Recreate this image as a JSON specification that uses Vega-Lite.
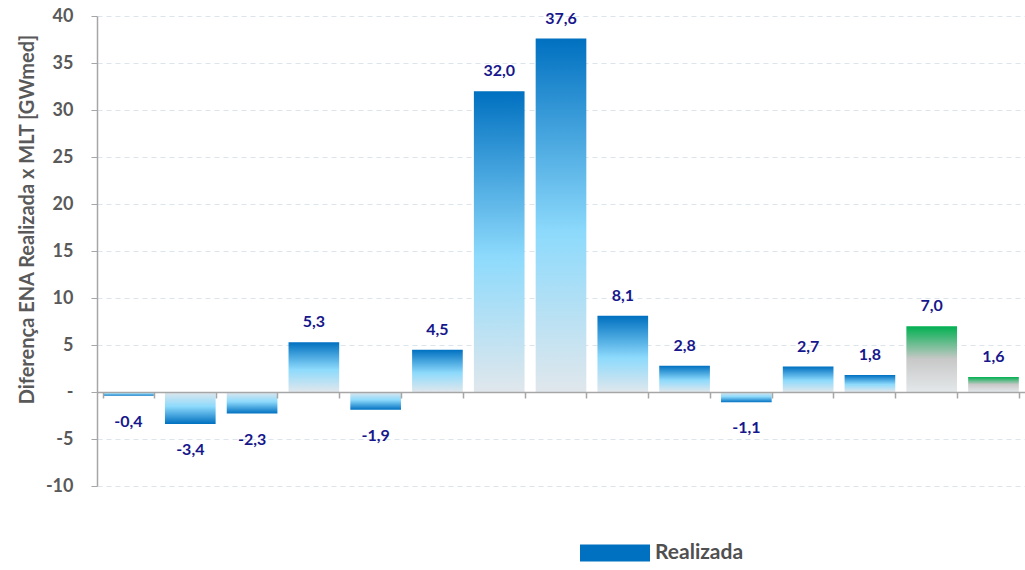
{
  "$schema": "https://vega.github.io/schema/vega-lite/v6.json",
  "width": 928,
  "height": 470,
  "autosize": "none",
  "padding": {"left": 97, "top": 16, "right": 0, "bottom": 84},
  "config": {
    "view": {"stroke": null},
    "font": "Lato",
    "locale": {"number": {"decimal": ",", "thousands": ".", "grouping": [3], "currency": ["R$", ""], "minus": "-"}}
  },
  "data": {
    "values": [
      {"periodo": "01", "tipo": "realizada", "v": -0.4},
      {"periodo": "02", "tipo": "realizada", "v": -3.4},
      {"periodo": "03", "tipo": "realizada", "v": -2.3},
      {"periodo": "04", "tipo": "realizada", "v": 5.3},
      {"periodo": "05", "tipo": "realizada", "v": -1.9},
      {"periodo": "06", "tipo": "realizada", "v": 4.5},
      {"periodo": "07", "tipo": "realizada", "v": 32.0},
      {"periodo": "08", "tipo": "realizada", "v": 37.6},
      {"periodo": "09", "tipo": "realizada", "v": 8.1},
      {"periodo": "10", "tipo": "realizada", "v": 2.8},
      {"periodo": "11", "tipo": "realizada", "v": -1.1},
      {"periodo": "12", "tipo": "realizada", "v": 2.7},
      {"periodo": "13", "tipo": "realizada", "v": 1.8},
      {"periodo": "14", "tipo": "prevista", "v": 7.0},
      {"periodo": "15", "tipo": "prevista", "v": 1.6}
    ]
  },
  "encoding": {
    "x": {
      "field": "periodo",
      "type": "nominal",
      "sort": "ascending",
      "scale": {"paddingInner": 0.18, "paddingOuter": 0.1},
      "axis": {
        "title": null,
        "labels": false,
        "orient": "bottom",
        "offset": -94,
        "domainColor": "#A6A6A6",
        "domainWidth": 1.5,
        "tickColor": "#A6A6A6",
        "tickWidth": 1.5,
        "tickSize": 6,
        "tickBand": "extent",
        "zindex": 1
      }
    }
  },
  "layer": [
    {
      "transform": [{"filter": "datum.tipo == 'realizada' && datum.v >= 0"}],
      "mark": {
        "type": "bar",
        "color": {
          "gradient": "linear", "x1": 0, "y1": 0, "x2": 0, "y2": 1,
          "stops": [
            {"offset": 0, "color": "#0070C0"},
            {"offset": 0.55, "color": "#8DDAFC"},
            {"offset": 1, "color": "#E0E7EC"}
          ]
        }
      },
      "encoding": {
        "y": {
          "field": "v",
          "type": "quantitative",
          "scale": {"domain": [-10, 40], "nice": false},
          "axis": {
            "title": "Diferença ENA Realizada x MLT [GWmed]",
            "values": [-10, -5, 0, 5, 10, 15, 20, 25, 30, 35, 40],
            "labelExpr": "datum.value == 0 ? '-' : datum.label",
            "labelFontSize": 18,
            "labelFontWeight": "bold",
            "labelColor": "#595959",
            "labelPadding": 18,
            "titleFontSize": 20,
            "titleFontWeight": "bold",
            "titleColor": "#595959",
            "titlePadding": 8,
            "titleY": 203,
            "gridColor": "#DCE4EC",
            "gridDash": [5, 4],
            "domainColor": "#A6A6A6",
            "domainWidth": 1.5,
            "tickColor": "#A6A6A6",
            "tickSize": 6
          }
        }
      }
    },
    {
      "transform": [{"filter": "datum.tipo == 'realizada' && datum.v < 0"}],
      "mark": {
        "type": "bar",
        "color": {
          "gradient": "linear", "x1": 0, "y1": 0, "x2": 0, "y2": 1,
          "stops": [
            {"offset": 0, "color": "#E0E7EC"},
            {"offset": 0.45, "color": "#8DDAFC"},
            {"offset": 1, "color": "#0070C0"}
          ]
        }
      },
      "encoding": {"y": {"field": "v", "type": "quantitative"}}
    },
    {
      "transform": [{"filter": "datum.tipo == 'prevista'"}],
      "mark": {
        "type": "bar",
        "color": {
          "gradient": "linear", "x1": 0, "y1": 0, "x2": 0, "y2": 1,
          "stops": [
            {"offset": 0, "color": "#00B050"},
            {"offset": 0.5, "color": "#C8C8C8"},
            {"offset": 1, "color": "#E4E8EA"}
          ]
        }
      },
      "encoding": {"y": {"field": "v", "type": "quantitative"}}
    },
    {
      "transform": [{"filter": "datum.v >= 0"}],
      "mark": {"type": "text", "baseline": "bottom", "dy": -12, "fontSize": 16, "fontWeight": "bold", "color": "#17178C"},
      "encoding": {
        "y": {"field": "v", "type": "quantitative"},
        "text": {"field": "v", "type": "quantitative", "format": ".1f"}
      }
    },
    {
      "transform": [{"filter": "datum.v < 0"}],
      "mark": {"type": "text", "baseline": "top", "dy": 18, "fontSize": 16, "fontWeight": "bold", "color": "#17178C"},
      "encoding": {
        "y": {"field": "v", "type": "quantitative"},
        "text": {"field": "v", "type": "quantitative", "format": ".1f"}
      }
    },
    {
      "transform": [{"filter": "datum.periodo == '01'"}],
      "mark": {"type": "bar", "strokeWidth": 0},
      "encoding": {
        "y": {"datum": 0},
        "y2": {"datum": 0},
        "color": {
          "datum": "Realizada",
          "scale": {"range": ["#0070C0"]},
          "legend": {
            "title": null,
            "orient": "none",
            "legendX": 483,
            "legendY": 502,
            "padding": 0,
            "symbolType": "M-1,-0.24H1V0.24H-1Z",
            "symbolSize": 4900,
            "symbolStrokeWidth": 0,
            "labelFontSize": 21,
            "labelFontWeight": "bold",
            "labelColor": "#505050",
            "labelOffset": 5
          }
        }
      }
    }
  ]
}
